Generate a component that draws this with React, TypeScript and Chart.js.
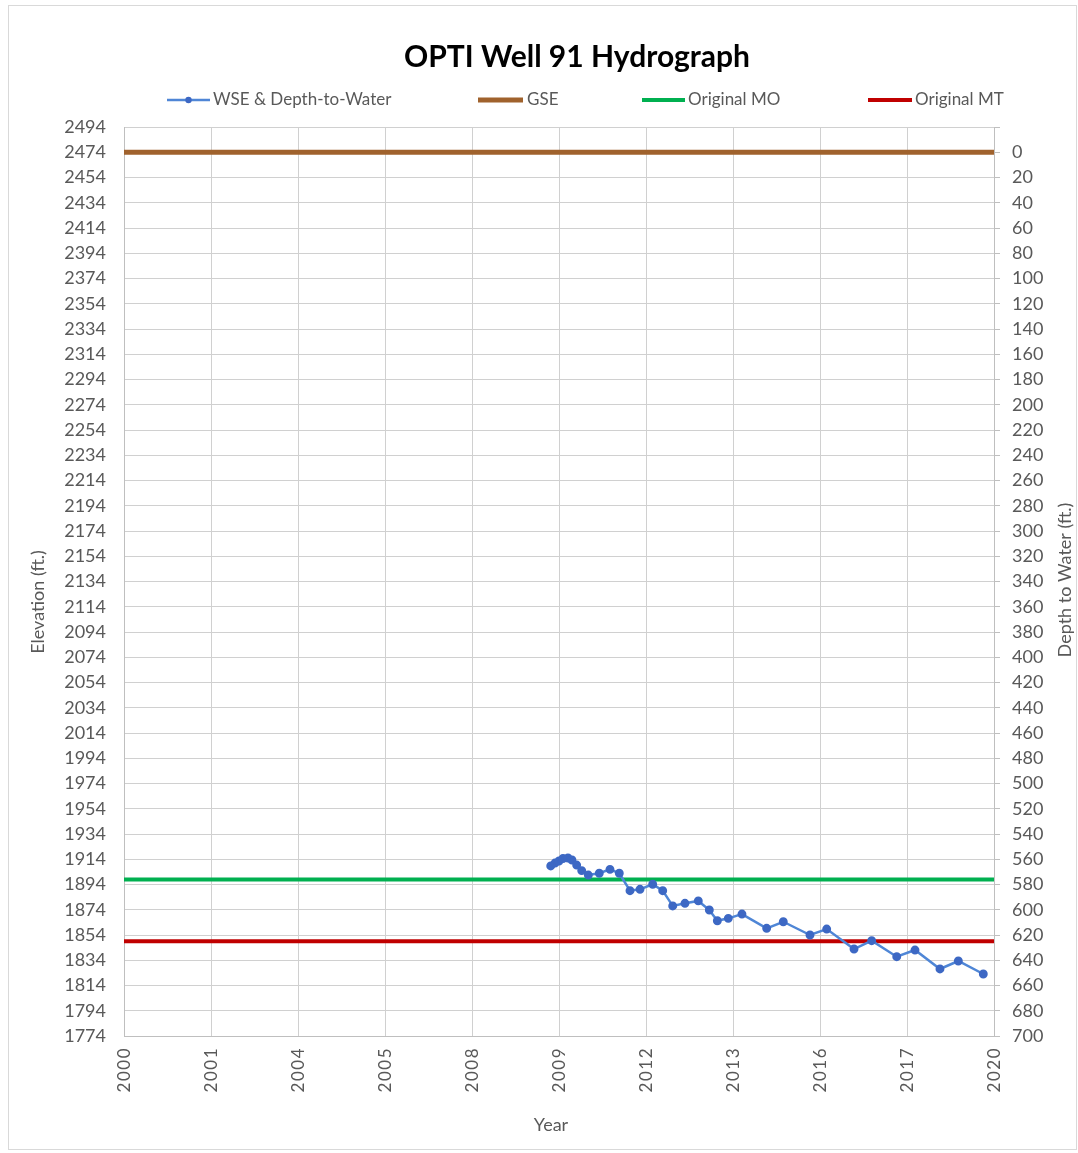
import React, { useEffect, useRef } from 'react';
import { Chart, registerables } from 'chart.js';

Chart.register(...registerables);

const TITLE = 'OPTI Well 91 Hydrograph';
const X_AXIS_TITLE = 'Year';
const Y_LEFT_TITLE = 'Elevation (ft.)';
const Y_RIGHT_TITLE = 'Depth to Water (ft.)';
const X_TICK_LABELS = ['2000', '2001', '2004', '2005', '2008', '2009', '2012', '2013', '2016', '2017', '2020'];

const SERIES_NAMES = ['WSE & Depth-to-Water', 'GSE', 'Original MO', 'Original MT'];

// WSE positions along the (evenly spaced) time axis, in axis units
const WSE_X = [4.905, 4.954, 5.0, 5.046, 5.103, 5.149, 5.203, 5.261, 5.337, 5.463, 5.586, 5.693, 5.816, 5.931, 6.077, 6.192, 6.307, 6.448, 6.601, 6.728, 6.82, 6.946, 7.103, 7.387, 7.578, 7.885, 8.077, 8.391, 8.594, 8.882, 9.092, 9.379, 9.59, 9.877];
const WSE_ELEV = [1908.7, 1911, 1912.6, 1914.6, 1915, 1913.4, 1909.4, 1905, 1901.5, 1902.9, 1906, 1902.9, 1889.1, 1890.2, 1894.2, 1889.1, 1877, 1879.1, 1881, 1873.8, 1865.3, 1867.2, 1870.6, 1859.3, 1864.5, 1854, 1858.7, 1842.9, 1849.5, 1836.8, 1842.1, 1827.1, 1833.4, 1823.1];

const GSE = 2474;
const MO = 1898;
const MT = 1849;

const ELEV_MIN = 1774;
const ELEV_MAX = 2494;
const ELEV_STEP = 20;
const X_MIN = 0;
const X_MAX = 10;

const COLORS = {
  wseLine: '#4f86d6',
  wsePoint: '#3d68c4',
  gse: '#a0622d',
  mo: '#00b050',
  mt: '#c00000',
  grid: '#d0d0d0',
  axis: '#bfbfbf',
  text: '#595959',
};

const FONT = 'Lato, "Open Sans", sans-serif';

const customPlugin = {
  id: 'customDecor',
  beforeDraw(chart: any) {
    const { ctx, width, height } = chart;
    ctx.save();
    ctx.fillStyle = '#ffffff';
    ctx.fillRect(0, 0, width, height);
    ctx.strokeStyle = '#d9d9d9';
    ctx.lineWidth = 1;
    ctx.strokeRect(8.5, 5.5, width - 10, height - 9);
    ctx.restore();
  },
  afterDraw(chart: any) {
    const { ctx } = chart;
    ctx.save();
    // Title
    ctx.fillStyle = '#000000';
    ctx.font = `bold 30px ${FONT}`;
    ctx.textAlign = 'center';
    ctx.textBaseline = 'middle';
    ctx.fillText(TITLE, 577, 57);

    // Legend
    const ly = 100;
    const legendItems = [
      { x0: 167, x1: 210, tx: 213, color: COLORS.wseLine, w: 2.5, dot: true },
      { x0: 478, x1: 523, tx: 527, color: COLORS.gse, w: 5, dot: false },
      { x0: 642, x1: 685, tx: 688, color: COLORS.mo, w: 4, dot: false },
      { x0: 868, x1: 912, tx: 915, color: COLORS.mt, w: 4, dot: false },
    ];
    ctx.font = `17px ${FONT}`;
    ctx.textAlign = 'left';
    legendItems.forEach((it, i) => {
      ctx.strokeStyle = it.color;
      ctx.lineWidth = it.w;
      ctx.beginPath();
      ctx.moveTo(it.x0, ly);
      ctx.lineTo(it.x1, ly);
      ctx.stroke();
      if (it.dot) {
        ctx.fillStyle = COLORS.wsePoint;
        ctx.beginPath();
        ctx.arc((it.x0 + it.x1) / 2, ly, 3.2, 0, Math.PI * 2);
        ctx.fill();
      }
      ctx.fillStyle = COLORS.text;
      ctx.fillText(SERIES_NAMES[i], it.tx, ly);
    });

    // Axis titles
    ctx.font = `18px ${FONT}`;
    ctx.fillStyle = COLORS.text;
    ctx.textAlign = 'center';
    ctx.save();
    ctx.translate(38, 602);
    ctx.rotate(-Math.PI / 2);
    ctx.fillText(Y_LEFT_TITLE, 0, 0);
    ctx.restore();
    ctx.save();
    ctx.translate(1065, 580);
    ctx.rotate(-Math.PI / 2);
    ctx.fillText(Y_RIGHT_TITLE, 0, 0);
    ctx.restore();
    ctx.fillText(X_AXIS_TITLE, 551, 1125);

    // X tick labels (rotated, letter spaced)
    const xs = chart.scales.x;
    ctx.font = `17px ${FONT}`;
    (ctx as any).letterSpacing = '1.5px';
    ctx.textAlign = 'right';
    ctx.textBaseline = 'middle';
    X_TICK_LABELS.forEach((lab, i) => {
      const px = xs.getPixelForValue(i);
      ctx.save();
      ctx.translate(px + 1, chart.chartArea.bottom + 11);
      ctx.rotate(-Math.PI / 2);
      ctx.fillText(lab, 0, 0);
      ctx.restore();
    });
    (ctx as any).letterSpacing = '0px';
    ctx.restore();
  },
};

export default function App() {
  const canvasRef = useRef<HTMLCanvasElement | null>(null);

  useEffect(() => {
    document.body.style.margin = '0';
    const canvas = canvasRef.current;
    if (!canvas) return;

    const wseData = WSE_X.map((x, i) => ({ x, y: WSE_ELEV[i] }));
    const flat = (v: number) => [
      { x: X_MIN, y: v },
      { x: X_MAX, y: v },
    ];

    const tickFont = { family: FONT, size: 18 };

    const chart = new Chart(canvas, {
      type: 'line',
      data: {
        datasets: [
          {
            label: SERIES_NAMES[0],
            data: wseData,
            borderColor: COLORS.wseLine,
            backgroundColor: COLORS.wsePoint,
            pointBackgroundColor: COLORS.wsePoint,
            pointBorderColor: COLORS.wsePoint,
            pointRadius: 3.2,
            borderWidth: 2.5,
            tension: 0,
            yAxisID: 'y',
            order: 0,
          },
          {
            label: SERIES_NAMES[1],
            data: flat(GSE),
            borderColor: COLORS.gse,
            borderWidth: 5,
            pointRadius: 0,
            yAxisID: 'y',
            order: 3,
          },
          {
            label: SERIES_NAMES[2],
            data: flat(MO),
            borderColor: COLORS.mo,
            borderWidth: 4,
            pointRadius: 0,
            yAxisID: 'y',
            order: 2,
          },
          {
            label: SERIES_NAMES[3],
            data: flat(MT),
            borderColor: COLORS.mt,
            borderWidth: 4,
            pointRadius: 0,
            yAxisID: 'y',
            order: 1,
          },
        ],
      },
      options: {
        animation: false,
        responsive: true,
        maintainAspectRatio: false,
        layout: { padding: { top: 127, left: 0, right: 0, bottom: 0 } },
        plugins: {
          legend: { display: false },
          title: { display: false },
          tooltip: { enabled: false },
        },
        scales: {
          x: {
            type: 'linear',
            min: X_MIN,
            max: X_MAX,
            ticks: { stepSize: 1, display: false },
            grid: { color: COLORS.grid, drawTicks: false },
            border: { color: COLORS.axis },
            afterFit: (s: any) => {
              s.height = 117;
            },
          },
          y: {
            position: 'left',
            min: ELEV_MIN,
            max: ELEV_MAX,
            ticks: {
              stepSize: ELEV_STEP,
              autoSkip: false,
              padding: 18,
              color: COLORS.text,
              font: tickFont,
              callback: (v: any) => String(v),
            },
            grid: { color: COLORS.grid, drawTicks: false },
            border: { color: COLORS.axis },
            afterFit: (s: any) => {
              s.width = 124;
            },
          },
          y2: {
            position: 'right',
            reverse: true,
            min: GSE - ELEV_MAX,
            max: GSE - ELEV_MIN,
            ticks: {
              stepSize: ELEV_STEP,
              autoSkip: false,
              padding: 12,
              color: COLORS.text,
              font: tickFont,
              callback: (v: any) => (Number(v) < 0 ? '' : String(v)),
            },
            grid: { drawOnChartArea: false, drawTicks: true, tickLength: 6, color: COLORS.axis },
            border: { color: COLORS.axis },
            afterFit: (s: any) => {
              s.width = 84;
            },
          },
        },
      } as any,
      plugins: [customPlugin],
    });

    return () => chart.destroy();
  }, []);

  return (
    <div style={{ width: '1078px', height: '1153px', position: 'relative' }}>
      <canvas ref={canvasRef} />
    </div>
  );
}
